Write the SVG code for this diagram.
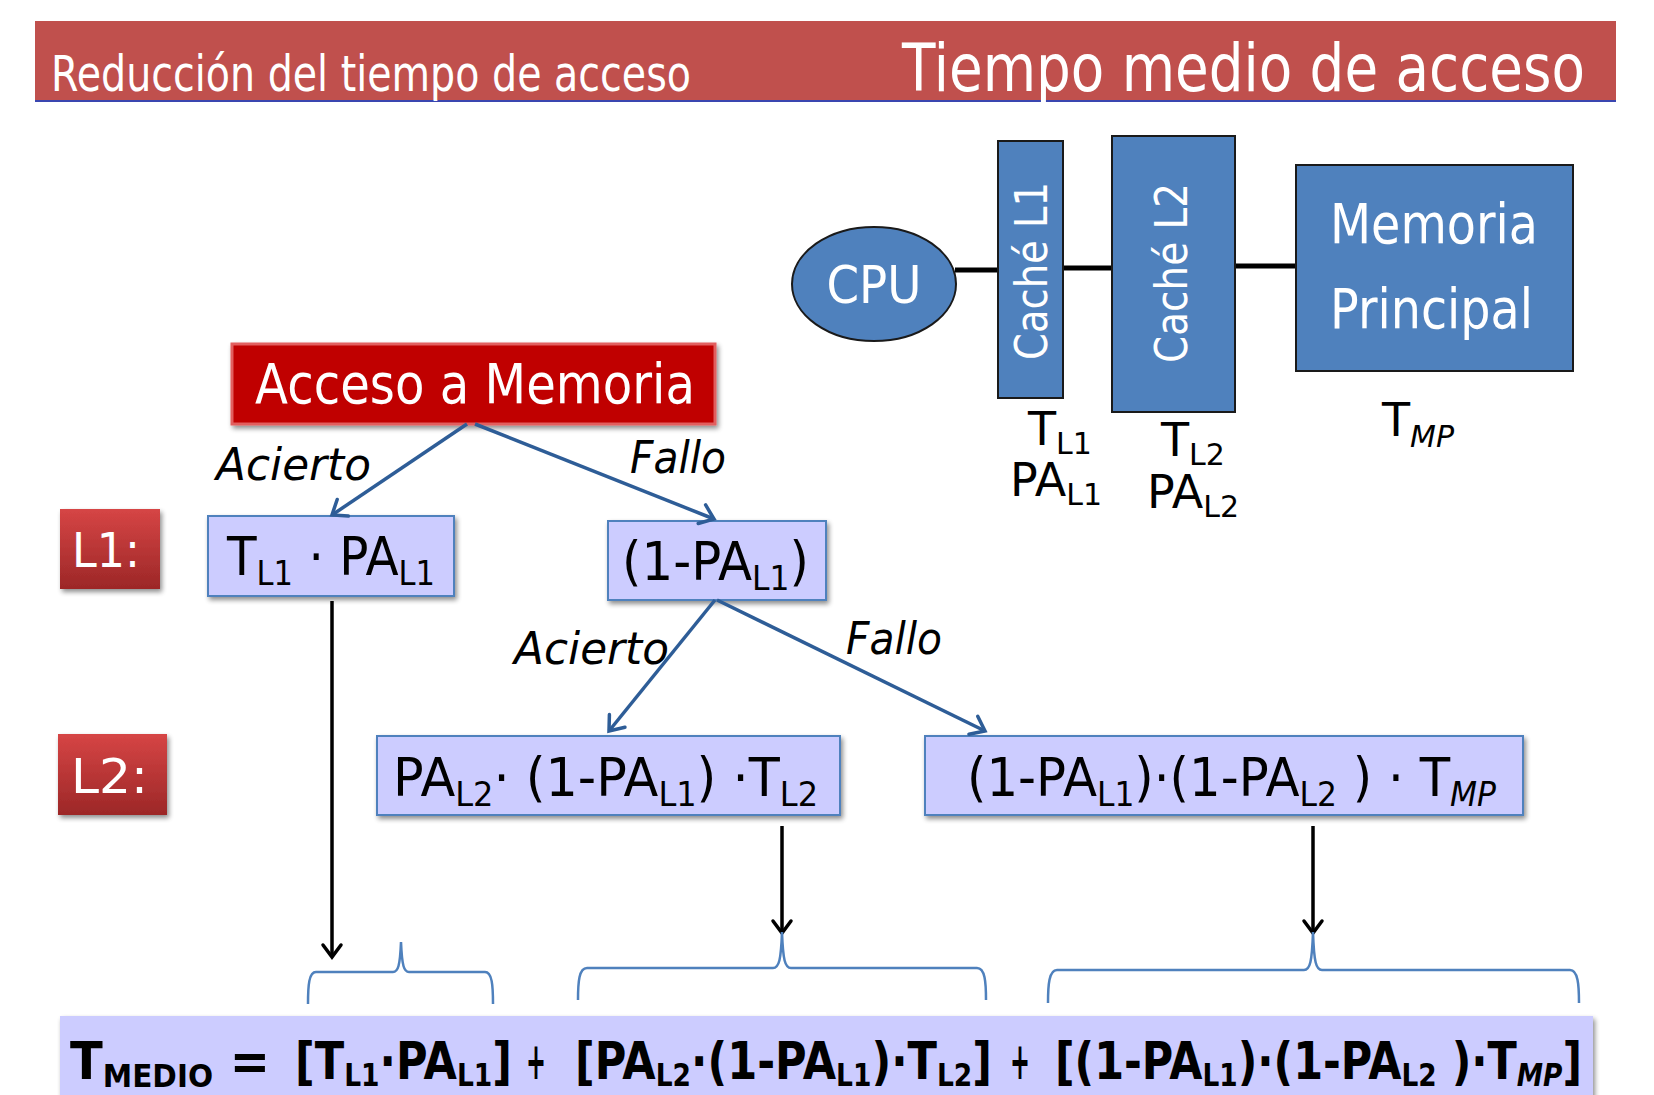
<svg xmlns="http://www.w3.org/2000/svg" width="1654" height="1095" viewBox="0 0 1654 1095">
  <style>
    text { font-family: "DejaVu Sans", "Liberation Sans", sans-serif; }
    .w { fill: #ffffff; }
    .it { font-style: italic; font-size: 44px; fill: #000; }
    .box { font-size: 54px; fill: #000; }
    .sub { font-size: 34px; }
    .lab { font-size: 46px; fill: #000; }
    .lsub { font-size: 30px; }
    .f { font-size: 52px; font-weight: bold; fill: #000; }
    .fs { font-size: 32px; }
    .blue { fill: #4F81BD; stroke: #1a1a1a; stroke-width: 2; }
    .lav { fill: #CCCCFF; stroke: #4F81BD; stroke-width: 2; }
    .bus { stroke: #000; stroke-width: 5; }
    .tree { stroke: #2E5D97; stroke-width: 3.5; fill: none; }
    .down { stroke: #000; stroke-width: 3.5; fill: none; }
    .brace { stroke: #4F81BD; stroke-width: 2.5; fill: none; }
  </style>
  <defs>
    <marker id="hb" markerUnits="userSpaceOnUse" markerWidth="26" markerHeight="26" refX="17" refY="13" orient="auto">
      <path d="M4,3 L17,13 L4,23" fill="none" stroke="#2E5D97" stroke-width="3.5" stroke-linecap="round"/>
    </marker>
    <marker id="hk" markerUnits="userSpaceOnUse" markerWidth="26" markerHeight="26" refX="17" refY="13" orient="auto">
      <path d="M5,4 L17,13 L5,22" fill="none" stroke="#000" stroke-width="3.5" stroke-linecap="round"/>
    </marker>
    <linearGradient id="redg" x1="0" y1="0" x2="0" y2="1">
      <stop offset="0" stop-color="#D64545"/>
      <stop offset="1" stop-color="#9C2727"/>
    </linearGradient>
    <filter id="sh" x="-10%" y="-10%" width="130%" height="140%">
      <feGaussianBlur in="SourceAlpha" stdDeviation="2.5"/>
      <feOffset dx="2" dy="3" result="o"/>
      <feComponentTransfer><feFuncA type="linear" slope="0.45"/></feComponentTransfer>
      <feMerge><feMergeNode/><feMergeNode in="SourceGraphic"/></feMerge>
    </filter>
  </defs>

  <rect width="1654" height="1095" fill="#ffffff"/>

  <!-- title bar -->
  <g id="header">
    <rect x="35" y="21" width="1581" height="80" fill="#C0504D"/>
    <line x1="35" y1="101" x2="1616" y2="101" stroke="#3A46B0" stroke-width="2"/>
    <text class="w" x="51" y="91" font-size="49" textLength="640" lengthAdjust="spacingAndGlyphs">Reducción del tiempo de acceso</text>
    <text class="w" x="902" y="91" font-size="66" textLength="683" lengthAdjust="spacingAndGlyphs">Tiempo medio de acceso</text>
  </g>

  <!-- memory hierarchy -->
  <g id="bus">
    <line class="bus" x1="955" y1="270" x2="999" y2="270"/>
    <line class="bus" x1="1063" y1="268" x2="1112" y2="268"/>
    <line class="bus" x1="1235" y1="266" x2="1296" y2="266"/>
  </g>
  <g id="cpu">
    <ellipse class="blue" cx="874" cy="284" rx="82" ry="57"/>
    <text class="w" x="874" y="303" font-size="52" text-anchor="middle" textLength="95" lengthAdjust="spacingAndGlyphs">CPU</text>
  </g>
  <g id="cache-l1">
    <rect class="blue" x="998" y="141" width="65" height="257"/>
    <text class="w" transform="translate(1047,271) rotate(-90)" x="0" y="0" font-size="45" text-anchor="middle" textLength="178" lengthAdjust="spacingAndGlyphs">Caché L1</text>
    <text class="lab" x="1028" y="445">T<tspan class="lsub" dy="9">L1</tspan></text>
    <text class="lab" x="1010" y="496">PA<tspan class="lsub" dy="9">L1</tspan></text>
  </g>
  <g id="cache-l2">
    <rect class="blue" x="1112" y="136" width="123" height="276"/>
    <text class="w" transform="translate(1187,273) rotate(-90)" x="0" y="0" font-size="45" text-anchor="middle" textLength="180" lengthAdjust="spacingAndGlyphs">Caché L2</text>
    <text class="lab" x="1161" y="456">T<tspan class="lsub" dy="9">L2</tspan></text>
    <text class="lab" x="1147" y="508">PA<tspan class="lsub" dy="9">L2</tspan></text>
  </g>
  <g id="main-memory">
    <rect class="blue" x="1296" y="165" width="277" height="206"/>
    <text class="w" x="1330" y="243" font-size="56" textLength="208" lengthAdjust="spacingAndGlyphs">Memoria</text>
    <text class="w" x="1330" y="328" font-size="56" textLength="203" lengthAdjust="spacingAndGlyphs">Principal</text>
    <text class="lab" x="1382" y="436">T<tspan class="lsub" dy="11" font-style="italic">MP</tspan></text>
  </g>

  <!-- access tree -->
  <g id="acceso">
    <rect x="232" y="344" width="483" height="80" fill="#C00000" stroke="#E25F5F" stroke-width="3" filter="url(#sh)"/>
    <text class="w" x="255" y="403" font-size="56" textLength="440" lengthAdjust="spacingAndGlyphs">Acceso a Memoria</text>
  </g>
  <g id="label-l1">
    <rect x="60" y="509" width="100" height="80" fill="url(#redg)" filter="url(#sh)"/>
    <text class="w" x="72" y="567" font-size="48" textLength="68" lengthAdjust="spacingAndGlyphs">L1:</text>
  </g>
  <g id="label-l2">
    <rect x="58" y="734" width="109" height="81" fill="url(#redg)" filter="url(#sh)"/>
    <text class="w" x="71" y="793" font-size="48" textLength="77" lengthAdjust="spacingAndGlyphs">L2:</text>
  </g>
  <g id="hit-l1">
    <rect class="lav" x="208" y="516" width="246" height="80" filter="url(#sh)"/>
    <text class="box" x="227" y="575" textLength="208" lengthAdjust="spacingAndGlyphs">T<tspan class="sub" dy="10">L1</tspan><tspan dy="-10"> · PA</tspan><tspan class="sub" dy="10">L1</tspan></text>
  </g>
  <g id="miss-l1">
    <rect class="lav" x="608" y="521" width="218" height="79" filter="url(#sh)"/>
    <text class="box" x="622" y="580" textLength="187" lengthAdjust="spacingAndGlyphs">(1-PA<tspan class="sub" dy="10">L1</tspan><tspan dy="-10">)</tspan></text>
  </g>
  <g id="hit-l2">
    <rect class="lav" x="377" y="736" width="463" height="79" filter="url(#sh)"/>
    <text class="box" x="393" y="796" textLength="425" lengthAdjust="spacingAndGlyphs">PA<tspan class="sub" dy="10">L2</tspan><tspan dy="-10">· (1-PA</tspan><tspan class="sub" dy="10">L1</tspan><tspan dy="-10">) ·T</tspan><tspan class="sub" dy="10">L2</tspan></text>
  </g>
  <g id="miss-l2">
    <rect class="lav" x="925" y="736" width="598" height="79" filter="url(#sh)"/>
    <text class="box" x="967" y="796" textLength="529" lengthAdjust="spacingAndGlyphs">(1-PA<tspan class="sub" dy="10">L1</tspan><tspan dy="-10">)·(1-PA</tspan><tspan class="sub" dy="10">L2</tspan><tspan dy="-10"> ) · T</tspan><tspan class="sub" dy="10" font-style="italic">MP</tspan></text>
  </g>

  <!-- edge labels -->
  <g id="edge-labels">
    <text class="it" x="216" y="480" textLength="155" lengthAdjust="spacingAndGlyphs">Acierto</text>
    <text class="it" x="630" y="473" textLength="96" lengthAdjust="spacingAndGlyphs">Fallo</text>
    <text class="it" x="514" y="664" textLength="155" lengthAdjust="spacingAndGlyphs">Acierto</text>
    <text class="it" x="846" y="654" textLength="96" lengthAdjust="spacingAndGlyphs">Fallo</text>
  </g>

  <g id="connectors">
    <line class="tree" x1="467" y1="424" x2="332" y2="515" marker-end="url(#hb)"/>
    <line class="tree" x1="475" y1="424" x2="714" y2="519" marker-end="url(#hb)"/>
    <line class="tree" x1="715" y1="600" x2="609" y2="731" marker-end="url(#hb)"/>
    <line class="tree" x1="717" y1="600" x2="985" y2="731" marker-end="url(#hb)"/>
    <line class="down" x1="332" y1="601" x2="332" y2="957" marker-end="url(#hk)"/>
    <line class="down" x1="782" y1="826" x2="782" y2="933" marker-end="url(#hk)"/>
    <line class="down" x1="1313" y1="826" x2="1313" y2="933" marker-end="url(#hk)"/>
    <path class="brace" d="M308,1004 C308,985 309,972 316,972 L393,972 C398,972 400,966 401,942 C402,966 404,972 409,972 L485,972 C492,972 493,985 493,1004"/>
    <path class="brace" d="M578,1000 C578,982 579,968 587,968 L773,968 C779,968 781,960 782,932 C783,960 785,968 791,968 L977,968 C985,968 986,982 986,1000"/>
    <path class="brace" d="M1048,1003 C1048,985 1049,970 1057,970 L1304,970 C1310,970 1312,962 1313,932 C1314,962 1316,970 1322,970 L1570,970 C1578,970 1579,985 1579,1003"/>
  </g>

  <!-- resulting expression -->
  <g id="formula">
    <rect x="60" y="1016" width="1533" height="90" fill="#CCCCFF" filter="url(#sh)"/>
    <text class="f" x="70" y="1079" textLength="200" lengthAdjust="spacingAndGlyphs">T<tspan class="fs" dy="8">MEDIO</tspan><tspan dy="-8"> =</tspan></text>
    <text class="f" x="295" y="1079" textLength="217" lengthAdjust="spacingAndGlyphs">[T<tspan class="fs" dy="7">L1</tspan><tspan dy="-7">·PA</tspan><tspan class="fs" dy="7">L1</tspan><tspan dy="-7">]</tspan></text>
    <text class="f" x="526" y="1079" textLength="20" lengthAdjust="spacingAndGlyphs">+</text>
    <text class="f" x="575" y="1079" textLength="417" lengthAdjust="spacingAndGlyphs">[PA<tspan class="fs" dy="7">L2</tspan><tspan dy="-7">·(1-PA</tspan><tspan class="fs" dy="7">L1</tspan><tspan dy="-7">)·T</tspan><tspan class="fs" dy="7">L2</tspan><tspan dy="-7">]</tspan></text>
    <text class="f" x="1010" y="1079" textLength="20" lengthAdjust="spacingAndGlyphs">+</text>
    <text class="f" x="1055" y="1079" textLength="527" lengthAdjust="spacingAndGlyphs">[(1-PA<tspan class="fs" dy="7">L1</tspan><tspan dy="-7">)·(1-PA</tspan><tspan class="fs" dy="7">L2</tspan><tspan dy="-7"> )·T</tspan><tspan class="fs" dy="7" font-style="italic">MP</tspan><tspan dy="-7">]</tspan></text>
  </g>
</svg>
